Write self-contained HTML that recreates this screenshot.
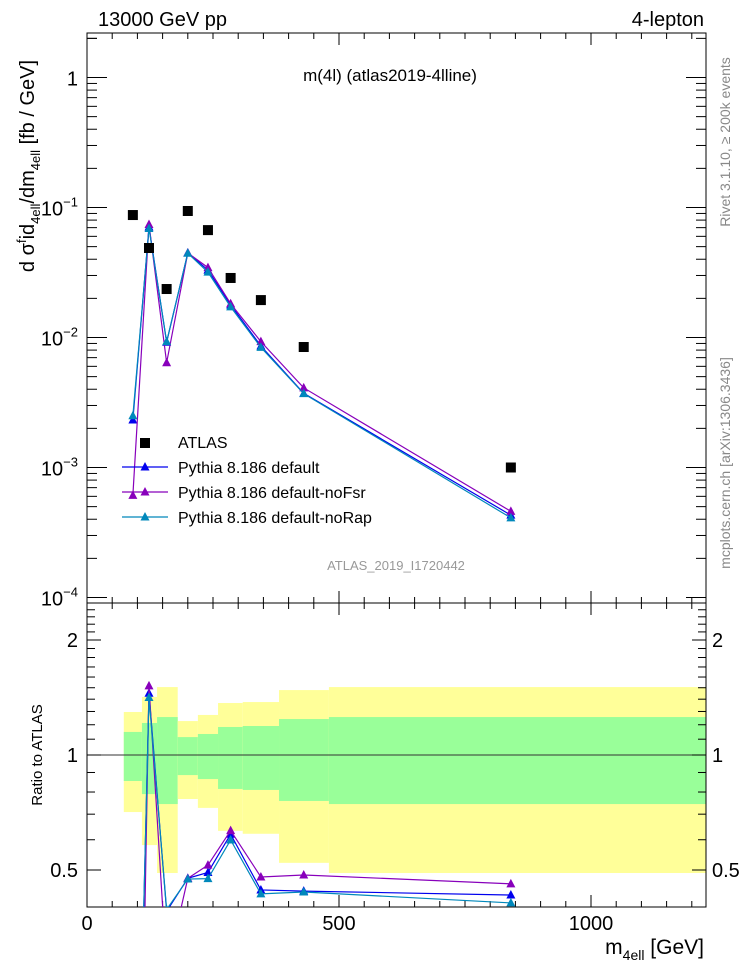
<!DOCTYPE html>
<html><head><meta charset="utf-8"><style>
html,body{margin:0;padding:0;background:#fff;overflow:hidden;width:746px;height:972px}
svg{display:block}
svg text{font-family:"Liberation Sans",sans-serif}
</style></head><body>
<svg id="s" width="746" height="972" xmlns="http://www.w3.org/2000/svg">
<text x="98" y="26" font-size="20">13000 GeV pp</text>
<text x="704" y="26" font-size="20" text-anchor="end">4-lepton</text>
<text x="390" y="81" font-size="17" text-anchor="middle">m(4l) (atlas2019-4lline)</text>
<text x="396" y="570" font-size="13" fill="#999" text-anchor="middle">ATLAS_2019_I1720442</text>
<text transform="translate(34,166) rotate(-90)" font-size="20" text-anchor="middle">d σ<tspan font-size="13" dy="-8">f</tspan><tspan dy="8">id</tspan><tspan font-size="13" dy="6">4ell</tspan><tspan dy="-6">/dm</tspan><tspan font-size="13" dy="6">4ell</tspan><tspan dy="-6"> [fb / GeV]</tspan></text>
<text transform="translate(42,755) rotate(-90)" font-size="15" text-anchor="middle">Ratio to ATLAS</text>
<text transform="translate(730,142) rotate(-90)" font-size="14" fill="#888" text-anchor="middle">Rivet 3.1.10, ≥ 200k events</text>
<text transform="translate(730,463) rotate(-90)" font-size="14" fill="#888" text-anchor="middle">mcplots.cern.ch [arXiv:1306.3436]</text>
<text x="704" y="954" font-size="21" text-anchor="end">m<tspan font-size="14" dy="6">4ell</tspan><tspan dy="-6"> [GeV]</tspan></text>
<g id="g"></g>
</svg>
<script>
const xs=[91,123,158,200,240,285,345,430,841];
const atlas=[0.0875,0.0488,0.0236,0.094,0.067,0.0287,0.0194,0.00845,0.001];
const mcDefault=[0.00232,0.0708,0.0092,0.0447,0.033,0.0178,0.0086,0.00372,0.00043];
const mcNoFsr=[0.00061,0.074,0.0064,0.0447,0.0345,0.0182,0.0093,0.0041,0.00046];
const mcNoRap=[0.0025,0.069,0.0093,0.0445,0.0318,0.0172,0.0084,0.0037,0.00041];
const binEdges=[73,109,139,180,220,260,309,381,480,1230];
const yelHi=[1.296,1.419,1.506,1.227,1.273,1.368,1.376,1.479,1.506];
const grnHi=[1.149,1.213,1.257,1.114,1.135,1.184,1.191,1.242,1.257];
const grnLo=[0.855,0.790,0.744,0.886,0.865,0.815,0.810,0.758,0.744];
const yelLo=[0.709,0.581,0.491,0.767,0.727,0.633,0.622,0.522,0.491];
const yTickLabels=["1","10","10","10","10"];
const L=87,R=706,T=33,M=603,B=907;
const X=v=>L+v*0.504;
const Y=v=>77.5-130*Math.log10(v);
const RY=v=>755-382*Math.log10(v);
const g=document.getElementById('g');const NS="http://www.w3.org/2000/svg";
function el(t,a,p){const e=document.createElementNS(NS,t);for(const k in a)e.setAttribute(k,a[k]);(p||g).appendChild(e);return e;}
const defs=el('defs',{});
const c1=el('clipPath',{id:'c1'},defs);el('rect',{x:L,y:T,width:R-L,height:M-T},c1);
const c2=el('clipPath',{id:'c2'},defs);el('rect',{x:L,y:M,width:R-L,height:B-M},c2);
const bg=el('g',{'clip-path':'url(#c2)'});
for(let i=0;i<binEdges.length-1;i++){
 const x0=X(binEdges[i]),w=X(binEdges[i+1])-x0;
 let r=el('rect',{x:x0,y:RY(yelHi[i]),width:w,height:RY(yelLo[i])-RY(yelHi[i]),fill:'#ffff99'},bg);
 
 r=el('rect',{x:x0,y:RY(grnHi[i]),width:w,height:RY(grnLo[i])-RY(grnHi[i]),fill:'#99ff99'},bg);
 
}
el('line',{x1:L,x2:R,y1:RY(1),y2:RY(1),stroke:'#333','stroke-width':1});
el('rect',{x:L,y:T,width:R-L,height:M-T,fill:'none',stroke:'#000','stroke-width':1});
el('rect',{x:L,y:M,width:R-L,height:B-M,fill:'none',stroke:'#000','stroke-width':1});
for(let v=50;v<1230;v+=50){const maj=v%500==0;const len=maj?12:6;
 for(const [a,b] of [[T,1],[M,1],[M,-1],[B,-1]])el('line',{x1:X(v),x2:X(v),y1:a,y2:a+b*len,stroke:'#000'});}
[0,500,1000].forEach(v=>{const t=el('text',{x:X(v),y:930,'font-size':20,'text-anchor':'middle'});t.textContent=v;
});
for(let d=-4;d<=0;d++){for(let k=1;k<10;k++){const v=k*Math.pow(10,d);const y=Y(v);if(y<T||y>M)continue;const len=k==1?20:10;
 el('line',{x1:L,x2:L+len,y1:y,y2:y,stroke:'#000'});el('line',{x1:R,x2:R-len,y1:y,y2:y,stroke:'#000'});}}
el('line',{x1:L,x2:L+10,y1:Y(2),y2:Y(2),stroke:'#000'});
yTickLabels.forEach((s,i)=>{const d=-i;const t=el('text',{x:78,y:Y(Math.pow(10,d))+8,'font-size':20,'text-anchor':'end'});
 
 if(d==0)t.textContent='1';else{t.textContent='10';const sp=el('tspan',{dy:-9,'font-size':13},t);sp.textContent='−'+(-d);}});
[0.4,0.5,0.6,0.7,0.8,0.9,1,1.1,1.2,1.3,1.4,1.5,1.6,1.7,1.8,1.9,2,2.1,2.2,2.3,2.4,2.5].forEach(v=>{const y=RY(v);if(y<M||y>B)return;
 const len=(v==0.5||v==1||v==2)?14:8;el('line',{x1:L,x2:L+len,y1:y,y2:y,stroke:'#000'});el('line',{x1:R,x2:R-len,y1:y,y2:y,stroke:'#000'});});
[['2',2],['1',1],['0.5',0.5]].forEach(([s,v])=>{let t=el('text',{x:78,y:RY(v)+7,'font-size':20,'text-anchor':'end'});t.textContent=s;
 
 t=el('text',{x:712,y:RY(v)+7,'font-size':20});t.textContent=s;
 });
const series=[['default',mcDefault,'#0000ee'],['noFsr',mcNoFsr,'#8800bb'],['noRap',mcNoRap,'#0088bb']];
const mg=el('g',{'clip-path':'url(#c1)'}),rg=el('g',{'clip-path':'url(#c2)'});
function tri(x,y,col,p){return el('path',{d:`M${x},${y-5}L${x+4.5},${y+3.5}L${x-4.5},${y+3.5}Z`,fill:col},p);}
series.forEach(([n,d,col])=>{
 let pl=el('polyline',{points:d.map((v,i)=>X(xs[i])+','+Y(v)).join(' '),fill:'none',stroke:col,'stroke-width':1.2},mg);
 
 d.forEach((v,i)=>{const t=tri(X(xs[i]),Y(v),col,mg);});
 pl=el('polyline',{points:d.map((v,i)=>X(xs[i])+','+RY(v/atlas[i])).join(' '),fill:'none',stroke:col,'stroke-width':1.2},rg);
 
 d.forEach((v,i)=>{const t=tri(X(xs[i]),RY(v/atlas[i]),col,rg);});
});
atlas.forEach((v,i)=>{const r=el('rect',{x:X(xs[i])-5,y:Y(v)-5,width:10,height:10,fill:'#000'},mg);
 });
const lg=el('g',{});
el('rect',{x:140,y:438,width:10,height:10,fill:'#000'},lg);
let t=el('text',{x:178,y:448,'font-size':16},lg);t.textContent='ATLAS';

const names=['Pythia 8.186 default','Pythia 8.186 default-noFsr','Pythia 8.186 default-noRap'];
series.forEach(([n,d,col],i)=>{const y=467+i*25;
 el('line',{x1:122,x2:168,y1:y,y2:y,stroke:col,'stroke-width':1.2},lg);tri(145,y,col,lg);
 const t=el('text',{x:178,y:y+6,'font-size':16},lg);t.textContent=names[i];
 });
</script>
</body></html>
